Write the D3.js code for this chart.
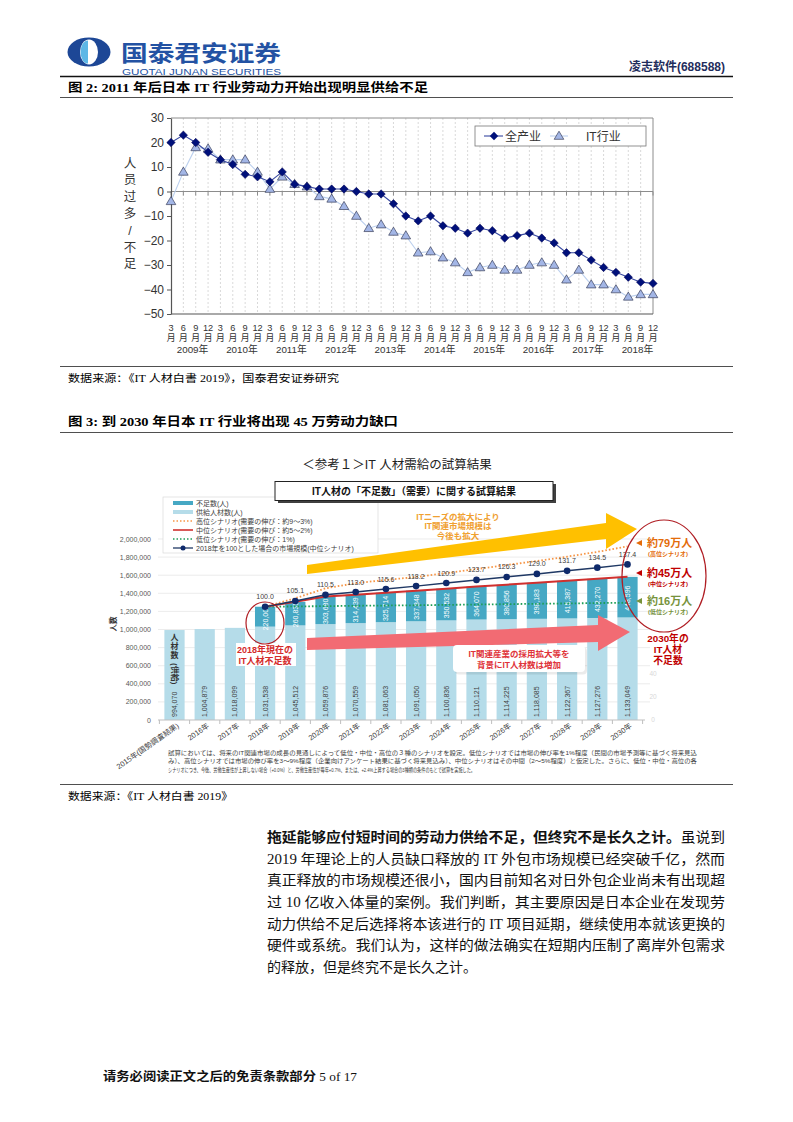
<!DOCTYPE html>
<html><head><meta charset="utf-8">
<script src="https://cdn.jsdelivr.net/npm/d3@7"></script>
<style>body{margin:0;background:#fff} svg{display:block}</style>
</head><body>
<svg id="page" width="793" height="1122"></svg>
<script>
// ================= DATA =================
// Figure 2
const monthLabels1 = ["3","6","9","12"];
const yearLabels1 = ["2009年","2010年","2011年","2012年","2013年","2014年","2015年","2016年","2017年","2018年"];
const yTicks1 = [30,20,10,0,-10,-20,-30,-40,-50];
const seriesNames1 = ["全产业","IT行业"];
const allIndustry = [20,23,20,16,13,11,7,6,4,8,3,2,1,1,1,0,-1,-1,-5,-10,
  -12,-10,-14,-15,-17,-15,-16,-19,-18,-17,-19,-21,-25,-25,-28,-31,-33,-35,-37,-37.5];
const itIndustry = [-4,8,18,17.5,13,13,13,8,1,6,3,2,-2,-3,-6,-10,-15,-13.5,-16.5,-18,
  -25,-24.5,-27,-29,-33,-31,-30,-32,-32,-30,-29,-30,-36,-32,-38,-38,-40,-43,-42,-42];

// Figure 3
const categories2 = ["2015年(国勢調査結果)","2016年","2017年","2018年","2019年","2020年","2021年","2022年","2023年","2024年","2025年","2026年","2027年","2028年","2029年","2030年"];
const supply2 = [994070,1004879,1018099,1031538,1045512,1059876,1070559,1081063,1091050,1100836,1110121,1114225,1118085,1122367,1127276,1133049];
const shortage2 = [0,0,0,220000,260835,303680,314439,325714,337848,350532,364070,380856,398183,415387,432270,448596];
const scenarioYears = ["2018年","2019年","2020年","2021年","2022年","2023年","2024年","2025年","2026年","2027年","2028年","2029年","2030年"];
const marketIndex = [100.0,105.1,110.5,113.0,115.6,118.2,120.9,123.7,126.3,129.0,131.7,134.5,137.4];
const highScenario = [1251538,1345000,1455000,1512000,1548000,1580000,1624000,1668000,1712000,1758000,1805000,1858000,1918000];
const lowScenario = [1251538,1255000,1258000,1262000,1265000,1268000,1272000,1276000,1280000,1284000,1288000,1292000,1296000];
const yTicks2 = [0,200000,400000,600000,800000,1000000,1200000,1400000,1600000,1800000,2000000];
const rightTicks2 = [0,20,40];
const legend2 = ["不足数(人)","供給人材数(人)","高位シナリオ(需要の伸び：約9～3%)","中位シナリオ(需要の伸び：約5～2%)","低位シナリオ(需要の伸び：1%)","2018年を100とした場合の市場規模(中位シナリオ)"];

// ================= SETUP =================
const svg = d3.select("#page");
const CN = "'Noto Sans CJK SC', sans-serif";
const SERIF = "'Liberation Serif', 'Noto Sans CJK SC', serif";
const SANS = "'Liberation Sans', 'Noto Sans CJK SC', sans-serif";
const JP = "'Liberation Sans', 'Noto Sans CJK JP', sans-serif";

// multi-line helper: one text element, one tspan per line
function lines(g, arr, x, y0, dy){
  const t = g.append("text").attr("x",x).attr("y",y0);
  t.selectAll("tspan").data(arr).join("tspan").attr("x",x).attr("y",(d,i)=>y0+i*dy).text(d=>d);
  return t;
}

// ================= HEADER =================
const hd = svg.append("g");
hd.append("ellipse").attr("cx",89).attr("cy",52).attr("rx",21.5).attr("ry",14.5).attr("fill","#1d4796");
hd.append("ellipse").attr("cx",89).attr("cy",52).attr("rx",9).attr("ry",12.5).attr("fill","#fff");
hd.append("path").attr("d","M88,40.5 A7.5,11.5 0 0 0 88,63.5 Z").attr("fill","#5db7e6");
hd.append("text").attr("x",121).attr("y",60.5).attr("font-family",SANS).attr("font-weight","bold")
  .attr("font-size",22).attr("fill","#2352a3").attr("textLength",160).attr("lengthAdjust","spacingAndGlyphs").text("国泰君安证券");
hd.append("text").attr("x",122).attr("y",74.5).attr("font-family","'Liberation Sans', sans-serif")
  .attr("font-size",9.5).attr("fill","#2352a3").attr("textLength",159).attr("lengthAdjust","spacingAndGlyphs").text("GUOTAI JUNAN SECURITIES");
hd.append("text").attr("x",725).attr("y",71).attr("text-anchor","end").attr("font-family",SANS).attr("font-weight","bold")
  .attr("font-size",12).attr("fill","#1f2d5c").text("凌志软件(688588)");
hd.append("line").attr("x1",60).attr("x2",733).attr("y1",76.5).attr("y2",76.5).attr("stroke","#111").attr("stroke-width",1.5);

function title(y, txt, len){
  svg.append("text").attr("x",68).attr("y",y).attr("font-family",SERIF).attr("font-weight","bold")
    .attr("font-size",12.5).attr("fill","#000").attr("textLength",len).attr("lengthAdjust","spacingAndGlyphs").text(txt);
}
title(92, "图 2: 2011 年后日本 IT 行业劳动力开始出现明显供给不足", 360);
svg.append("line").attr("x1",60).attr("x2",733).attr("y1",97.5).attr("y2",97.5).attr("stroke","#222").attr("stroke-width",0.8);

// ================= CHART 1 =================
const c1 = svg.append("g");
const x1 = d3.scaleLinear().domain([0, allIndustry.length-1]).range([171,653]);
const y1 = d3.scaleLinear().domain([-50,30]).range([314,118]);

c1.selectAll(".vg").data(d3.range(1, allIndustry.length-1)).join("line")
  .attr("x1",d=>x1(d)).attr("x2",d=>x1(d)).attr("y1",118).attr("y2",314)
  .attr("stroke","#cfcfcf").attr("stroke-width",0.8).attr("stroke-dasharray","2,2");
c1.append("path").attr("d",`M${x1(0)},${y1(30)}H${x1(39)}V${y1(-50)}`).attr("fill","none").attr("stroke","#8c8c8c").attr("stroke-width",1);
c1.append("line").attr("x1",x1(0)).attr("x2",x1(39)).attr("y1",y1(0)).attr("y2",y1(0)).attr("stroke","#8c8c8c").attr("stroke-width",1);
c1.selectAll(".zt").data(d3.range(0, allIndustry.length)).join("line")
  .attr("x1",d=>x1(d)).attr("x2",d=>x1(d)).attr("y1",y1(0)).attr("y2",y1(0)+4).attr("stroke","#8c8c8c");
c1.append("line").attr("x1",x1(0)).attr("x2",x1(39)).attr("y1",y1(-50)).attr("y2",y1(-50)).attr("stroke","#555").attr("stroke-width",1.2);

const yAx1 = c1.append("g").attr("transform",`translate(${x1(0)},0)`)
  .call(d3.axisLeft(y1).tickValues(yTicks1).tickSize(4).tickSizeOuter(0).tickPadding(3)
    .tickFormat(d=> d<0 ? "\u2212"+Math.abs(d) : String(d)));
yAx1.select(".domain").attr("stroke","#555").attr("stroke-width",1.2);
yAx1.selectAll(".tick line").attr("stroke","#555");
yAx1.selectAll(".tick text").attr("font-family",SANS).attr("font-size",12).attr("fill","#333");

// y title (one text, stacked characters)
lines(c1, ["人","员","过","多","/","不","足"], 130, 167.5, 16.8)
  .attr("text-anchor","middle").attr("font-family",SANS).attr("font-size",12.5).attr("fill","#333");

// x labels: month number + 月 in one text element
const xl = c1.selectAll(".xm").data(d3.range(0, allIndustry.length)).join("text")
  .attr("text-anchor","middle").attr("font-family",SANS).attr("font-size",9.2).attr("fill","#333");
xl.append("tspan").attr("x",d=>x1(d)).attr("y",330.5).text(d=>monthLabels1[d%4]);
xl.append("tspan").attr("x",d=>x1(d)).attr("y",341).text("月");
c1.selectAll(".yr").data(yearLabels1).join("text")
  .attr("x",(d,i)=>(x1(i*4)+x1(i*4+3))/2+3).attr("y",352.8).attr("text-anchor","middle")
  .attr("font-family",SANS).attr("font-size",9.8).attr("fill","#333").text(d=>d);

// series
const line1 = d3.line().x((d,i)=>x1(i)).y(d=>y1(d));
const triPath = "M0,-4.8L4.8,3.3L-4.8,3.3Z";
const diaPath = "M0,-4.2L4.2,0L0,4.2L-4.2,0Z";
c1.append("path").datum(itIndustry).attr("d",line1).attr("fill","none").attr("stroke","#bcd0ee").attr("stroke-width",1.1);
c1.selectAll(".tri").data(itIndustry).join("path").attr("d",triPath)
  .attr("transform",(d,i)=>`translate(${x1(i)},${y1(d)})`).attr("fill","#a3b6e6").attr("stroke","#3a3f5a").attr("stroke-width",0.7);
c1.append("path").datum(allIndustry).attr("d",line1).attr("fill","none").attr("stroke","#3748a0").attr("stroke-width",1.1);
c1.selectAll(".dia").data(allIndustry).join("path").attr("d",diaPath)
  .attr("transform",(d,i)=>`translate(${x1(i)},${y1(d)})`).attr("fill","#00107a").attr("stroke","#000050").attr("stroke-width",0.5);

// legend
const lg1 = c1.append("g");
lg1.append("rect").attr("x",475).attr("y",126).attr("width",171).attr("height",20).attr("fill","#fff").attr("stroke","#777").attr("stroke-width",0.8);
lg1.append("line").attr("x1",484).attr("x2",503).attr("y1",136).attr("y2",136).attr("stroke","#3748a0").attr("stroke-width",1.1);
lg1.append("path").attr("d",diaPath).attr("transform","translate(494,136)").attr("fill","#00107a");
lg1.append("text").attr("x",505).attr("y",140.5).attr("font-family",CN).attr("font-size",12).attr("fill","#333").text(seriesNames1[0]);
lg1.append("line").attr("x1",550).attr("x2",568).attr("y1",136).attr("y2",136).attr("stroke","#bcd0ee").attr("stroke-width",1.1);
lg1.append("path").attr("d",triPath).attr("transform","translate(559,136)").attr("fill","#a3b6e6").attr("stroke","#3a3f5a").attr("stroke-width",0.7);
lg1.append("text").attr("x",586).attr("y",140.5).attr("font-family",SANS).attr("font-size",12).attr("fill","#333").text(seriesNames1[1]);

// source 1
svg.append("line").attr("x1",60).attr("x2",733).attr("y1",366.5).attr("y2",366.5).attr("stroke","#222").attr("stroke-width",0.8);
svg.append("text").attr("x",68).attr("y",382).attr("font-family",SERIF).attr("font-size",10.5).attr("fill","#000")
  .attr("textLength",271).attr("lengthAdjust","spacingAndGlyphs").text("数据来源：《IT 人材白書 2019》，国泰君安证券研究");

title(426, "图 3: 到 2030 年日本 IT 行业将出现 45 万劳动力缺口", 330);
svg.append("line").attr("x1",60).attr("x2",733).attr("y1",432.5).attr("y2",432.5).attr("stroke","#222").attr("stroke-width",0.8);

// ================= CHART 2 =================
const c2 = svg.append("g").attr("font-family",JP);
const y2 = d3.scaleLinear().domain([0,2000000]).range([720,539]);
const xb = d3.scaleBand().domain(categories2).range([159.4,642.6]).paddingInner(0.33).paddingOuter(0.165);
const cx = d => xb(d) + xb.bandwidth()/2;
const demandMid = supply2.map((s,i)=>s+shortage2[i]);
const yIdx = d3.scaleLinear().domain([0,100]).range([y2(0), y2(highScenario[0])]);

c2.append("text").attr("x",397).attr("y",469).attr("text-anchor","middle").attr("font-size",12.5).attr("fill","#222").text("＜参考１＞IT 人材需給の試算結果");

// gridlines
c2.selectAll(".g2").data(yTicks2.slice(1)).join("line").attr("x1",158).attr("x2",650)
  .attr("y1",d=>y2(d)).attr("y2",d=>y2(d)).attr("stroke","#e4e4e4").attr("stroke-width",0.7);
c2.selectAll(".yl2").data(yTicks2).join("text").attr("x",151).attr("y",d=>y2(d)+2.5).attr("text-anchor","end")
  .attr("font-size",7).attr("fill","#595959").text(d=>d3.format(",")(d));
c2.append("text").attr("transform","translate(116,624) rotate(-90)").attr("text-anchor","middle").attr("font-size",7.5).attr("font-weight","bold").attr("fill","#333").text("人数");
c2.selectAll(".rt").data(rightTicks2).join("text").attr("x",653).attr("y",d=>720-d*1.15+2).attr("text-anchor","middle")
  .attr("font-size",6.5).attr("fill","#d8d8d8").text(d=>d);

// bars
c2.selectAll(".sb").data(categories2).join("rect").attr("x",d=>xb(d)).attr("width",xb.bandwidth())
  .attr("y",(d,i)=>y2(supply2[i])).attr("height",(d,i)=>y2(0)-y2(supply2[i])).attr("fill","#b5dce9");
c2.selectAll(".tb").data(categories2).join("rect").attr("x",d=>xb(d)).attr("width",xb.bandwidth())
  .attr("y",(d,i)=>y2(demandMid[i])).attr("height",(d,i)=>y2(supply2[i])-y2(demandMid[i])).attr("fill","#46a8c4");
c2.append("line").attr("x1",158).attr("x2",645).attr("y1",720).attr("y2",720).attr("stroke","#bfbfbf");
c2.selectAll(".bt").data(categories2.concat([null])).join("line")
  .attr("x1",(d,i)=>159.4+i*xb.step()).attr("x2",(d,i)=>159.4+i*xb.step()).attr("y1",720).attr("y2",724).attr("stroke","#bfbfbf");

// bar labels
c2.selectAll(".sl").data(categories2).join("text").attr("transform",(d,i)=>`translate(${cx(d)+2.5},717) rotate(-90)`)
  .attr("font-size",7).attr("fill","#404040").text((d,i)=>d3.format(",")(supply2[i]));
c2.selectAll(".tl").data(categories2.filter((d,i)=>shortage2[i]>0)).join("text")
  .attr("transform",d=>{const i=categories2.indexOf(d);return `translate(${cx(d)+2.5},${(y2(supply2[i])+y2(demandMid[i]))/2+1}) rotate(-90)`;})
  .attr("text-anchor","middle").attr("font-size",7).attr("fill","#fff")
  .text(d=>d3.format(",")(shortage2[categories2.indexOf(d)]));
// vertical text in first bar
lines(c2, ["人","材","数"], cx(categories2[0]), 640, 9.2)
  .attr("text-anchor","middle").attr("font-size",8).attr("font-weight","bold").attr("fill","#333");
c2.append("text").attr("transform",`translate(${cx(categories2[0])-2.8},663) rotate(90)`).attr("font-size",8).attr("font-weight","bold").attr("fill","#333").text("(供給)");

// category labels
c2.selectAll(".cl").data(categories2).join("text").attr("transform",d=>`translate(${cx(d)+5},727) rotate(-35)`)
  .attr("text-anchor","end").attr("font-size",7.5).attr("fill","#404040").text(d=>d);

// arrows
c2.append("polygon").attr("points","307,565 606,523 606,513 637,529 606,549 606,539 307,574").attr("fill","#ffc000");
c2.append("polygon").attr("points","307,638 598,625 598,615 630,632 598,651 598,642 307,650").attr("fill","#f26b73");

// scenario lines
const xs = d => cx(d);
const lineS = d3.line().x((d,i)=>xs(scenarioYears[i])).y(d=>y2(d));
c2.append("path").datum(lowScenario).attr("d",lineS).attr("fill","none").attr("stroke","#1e9e58").attr("stroke-width",1.8).attr("stroke-dasharray","1.6,2");
c2.append("path").datum(demandMid.slice(3)).attr("d",lineS).attr("fill","none").attr("stroke","#d0302e").attr("stroke-width",2);
c2.append("path").datum(highScenario).attr("d",lineS).attr("fill","none").attr("stroke","#f79646").attr("stroke-width",1.8).attr("stroke-dasharray","1.6,2");
const lineM = d3.line().x((d,i)=>xs(scenarioYears[i])).y(d=>yIdx(d));
c2.append("path").datum(marketIndex).attr("d",lineM).attr("fill","none").attr("stroke","#1f3864").attr("stroke-width",1.5);
c2.selectAll(".md").data(marketIndex).join("circle").attr("cx",(d,i)=>xs(scenarioYears[i])).attr("cy",d=>yIdx(d)).attr("r",3.3).attr("fill","#0f2a6b");
c2.selectAll(".ml").data(marketIndex).join("text").attr("x",(d,i)=>xs(scenarioYears[i])).attr("y",d=>yIdx(d)-7.5).attr("text-anchor","middle")
  .attr("font-size",7).attr("fill","#404040").text(d=>d3.format(".1f")(d));

// legend 2
const lg2 = c2.append("g");
lg2.append("rect").attr("x",163).attr("y",497).attr("width",215).attr("height",56).attr("fill","#fff").attr("stroke","#d9d9d9").attr("stroke-width",0.7);
const lgY = [503,512,521,530,539,548];
lg2.append("rect").attr("x",173).attr("y",lgY[0]-2).attr("width",20).attr("height",4).attr("fill","#46a8c4");
lg2.append("rect").attr("x",173).attr("y",lgY[1]-2).attr("width",20).attr("height",4).attr("fill","#b5dce9");
lg2.append("line").attr("x1",173).attr("x2",193).attr("y1",lgY[2]).attr("y2",lgY[2]).attr("stroke","#f79646").attr("stroke-width",1.6).attr("stroke-dasharray","1.5,2");
lg2.append("line").attr("x1",173).attr("x2",193).attr("y1",lgY[3]).attr("y2",lgY[3]).attr("stroke","#d0302e").attr("stroke-width",1.6);
lg2.append("line").attr("x1",173).attr("x2",193).attr("y1",lgY[4]).attr("y2",lgY[4]).attr("stroke","#1e9e58").attr("stroke-width",1.6).attr("stroke-dasharray","1.5,2");
lg2.append("line").attr("x1",173).attr("x2",193).attr("y1",lgY[5]).attr("y2",lgY[5]).attr("stroke","#1f3864").attr("stroke-width",1.3);
lg2.append("circle").attr("cx",183).attr("cy",lgY[5]).attr("r",2.5).attr("fill","#0f2a6b");
lines(lg2, legend2, 196, lgY[0]+2.5, 9).attr("font-size",7).attr("fill","#404040");

// title box
c2.append("rect").attr("x",278).attr("y",484).attr("width",278).attr("height",19).attr("fill","#404040");
c2.append("rect").attr("x",275).attr("y",481.5).attr("width",278).attr("height",19).attr("fill","#fff").attr("stroke","#222").attr("stroke-width",1);
c2.append("text").attr("x",414).attr("y",495).attr("text-anchor","middle").attr("font-size",10).attr("font-weight","bold").attr("fill","#111").text("IT人材の「不足数」（需要）に関する試算結果");

// orange note
lines(c2, ["ITニーズの拡大により","IT関連市場規模は","今後も拡大"], 458, 519.5, 9.6)
  .attr("text-anchor","middle").attr("font-size",8.5).attr("font-weight","bold").attr("fill","#f0a030");

// 2018 note
c2.append("rect").attr("x",236).attr("y",643).attr("width",60).attr("height",23).attr("fill","#fff");
lines(c2, ["2018年現在の","IT人材不足数"], 265, 653, 10.5)
  .attr("text-anchor","middle").attr("font-size",9).attr("font-weight","bold").attr("fill","#d42a2a");
c2.append("ellipse").attr("cx",265).attr("cy",623).attr("rx",19).attr("ry",21).attr("fill","none").attr("stroke","#b01e24").attr("stroke-width",1.2);

// hiring note box
c2.append("rect").attr("x",454).attr("y",646).attr("width",132).attr("height",27).attr("rx",4).attr("fill","#000").attr("opacity",0.08).attr("transform","translate(1,1.5)");
c2.append("rect").attr("x",453).attr("y",645).attr("width",132).attr("height",27).attr("rx",4).attr("fill","#fff");
lines(c2, ["IT関連産業の採用拡大等を","背景にIT人材数は増加"], 519, 657, 11)
  .attr("text-anchor","middle").attr("font-size",8.5).attr("font-weight","bold").attr("fill","#e0333a");

// right annotations
c2.append("ellipse").attr("cx",664).attr("cy",576).attr("rx",42).attr("ry",56).attr("fill","none").attr("stroke","#b01e24").attr("stroke-width",1.2);
const ann = [
  {big:"約79万人", small:"(高位シナリオ)", y:543, c:"#e46c0a"},
  {big:"約45万人", small:"(中位シナリオ)", y:573, c:"#c00000"},
  {big:"約16万人", small:"(低位シナリオ)", y:601, c:"#77933c"}];
ann.forEach(a=>{
  c2.append("polygon").attr("points",`${636},${a.y} ${642},${a.y-3} ${642},${a.y+3}`).attr("fill",a.c);
  const t = c2.append("text").attr("font-weight","bold").attr("fill",a.c);
  t.append("tspan").attr("x",647).attr("y",a.y+4).attr("font-size",11).text(a.big);
  t.append("tspan").attr("x",668).attr("y",a.y+12.5).attr("text-anchor","middle").attr("font-size",6).text(a.small);
});
lines(c2, ["2030年の","IT人材","不足数"], 668, 642, 11)
  .attr("text-anchor","middle").attr("font-size",9.8).attr("font-weight","bold").attr("fill","#c00000");

// footnote
const fn = ["試算においては、将来のIT関連市場の成長の見通しによって低位・中位・高位の３種のシナリオを設定。低位シナリオでは市場の伸び率を1%程度（民間の市場予測等に基づく将来見込",
 "み）、高位シナリオでは市場の伸び率を3～9%程度（企業向けアンケート結果に基づく将来見込み）、中位シナリオはその中間（2～5%程度）と仮定した。さらに、低位・中位・高位の各",
 "シナリオにつき、今後、労働生産性が上昇しない場合（+0.0%）と、労働生産性が毎年+0.7%、または、+2.4%上昇する場合の3種類の条件のもとで試算を実施した。"];
const fnT = c2.append("text").attr("font-size",6.2).attr("fill","#404040");
fnT.selectAll("tspan").data(fn).join("tspan").attr("x",168).attr("y",(d,i)=>755+i*8.3)
  .attr("textLength",(d,i)=>i<2?529:307).attr("lengthAdjust","spacingAndGlyphs").text(d=>d);

// source 2
svg.append("line").attr("x1",60).attr("x2",733).attr("y1",784.5).attr("y2",784.5).attr("stroke","#222").attr("stroke-width",0.8);
svg.append("text").attr("x",68).attr("y",800).attr("font-family",SERIF).attr("font-size",10.5).attr("fill","#000")
  .attr("textLength",165).attr("lengthAdjust","spacingAndGlyphs").text("数据来源：《IT 人材白書 2019》");

// ================= PARAGRAPH =================
const para = [
  [["拖延能够应付短时间的劳动力供给不足，但终究不是长久之计。",true],["虽说到",false]],
  [["2019 年理论上的人员缺口释放的 IT 外包市场规模已经突破千亿，然而",false]],
  [["真正释放的市场规模还很小，国内目前知名对日外包企业尚未有出现超",false]],
  [["过 10 亿收入体量的案例。我们判断，其主要原因是日本企业在发现劳",false]],
  [["动力供给不足后选择将本该进行的 IT 项目延期，继续使用本就该更换的",false]],
  [["硬件或系统。我们认为，这样的做法确实在短期内压制了离岸外包需求",false]],
  [["的释放，但是终究不是长久之计。",false]]];
para.forEach((ln,i)=>{
  const t = svg.append("text").attr("x",267).attr("y",842+i*21.67).attr("font-family",SERIF).attr("font-size",14).attr("fill","#111");
  if(i<6) t.attr("textLength",458).attr("lengthAdjust","spacingAndGlyphs");
  ln.forEach(([s,b])=>t.append("tspan").attr("font-weight",b?"bold":"normal").text(s));
});

// footer
const ft = svg.append("text").attr("x",103).attr("y",1081).attr("font-family",SERIF).attr("font-size",12).attr("fill","#111")
  .attr("textLength",254).attr("lengthAdjust","spacingAndGlyphs");
ft.append("tspan").attr("font-weight","bold").text("请务必阅读正文之后的免责条款部分");
ft.append("tspan").text(" 5 of 17");
</script></body></html>
